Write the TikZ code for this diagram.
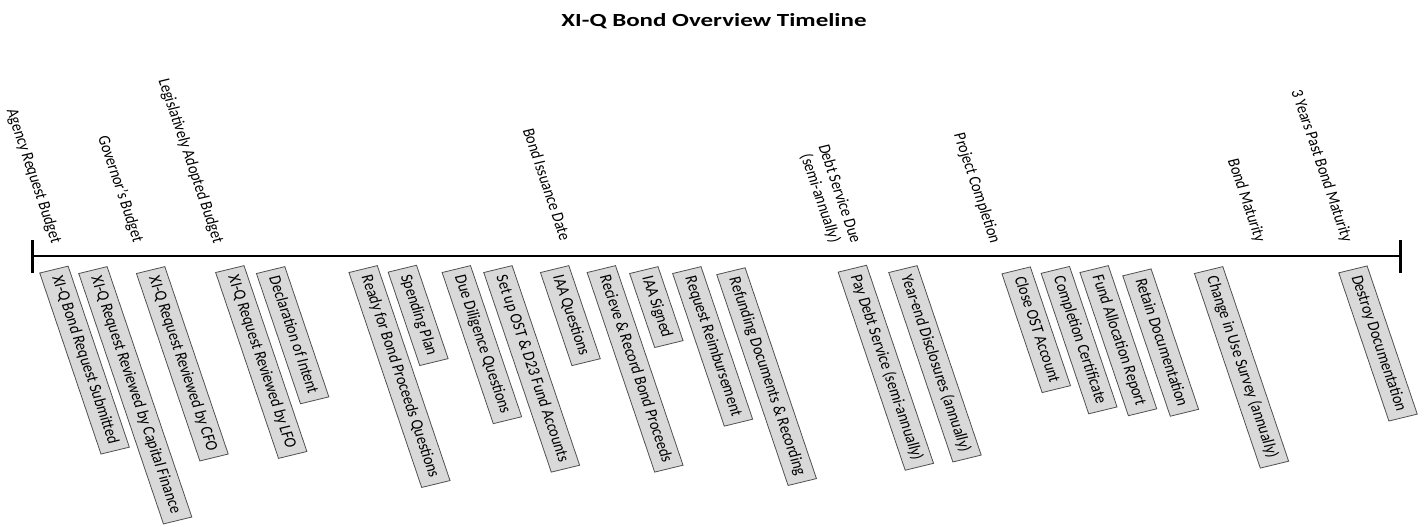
\documentclass[tikz,border=0pt]{standalone}
\usepackage{fontspec}
\setmainfont{Carlito}
\definecolor{boxfill}{RGB}{217,217,217}
\definecolor{boxline}{RGB}{80,80,80}
\begin{document}
\begin{tikzpicture}[x=1pt,y=-1pt,
  evbox/.style={draw=boxline, fill=boxfill, line width=0.8pt,
    font=\fontsize{14.5}{17}\selectfont, text height=10.5pt, text depth=3.5pt,
    inner xsep=7pt, inner ysep=5.5pt, anchor=west, xscale=1.18, rotate=-74},
  milestone/.style={font=\fontsize{14.5}{17}\selectfont, inner sep=0pt,
    anchor=east, align=center, xscale=1.18, rotate=-74},
  axis/.style={line width=2pt, black},
  tick/.style={line width=3pt, black}]
\useasboundingbox (0,0) rectangle (1424,527);
% title
\node (title) at (714,21) {\scalebox{1.35}[1]{\fontsize{18.5}{22}\selectfont\bfseries XI-Q Bond Overview Timeline}};
% timeline
\coordinate (tl) at (32.5,256);
\coordinate (tr) at (1400,256);
\coordinate (tlt) at (32.5,240);
\coordinate (tlb) at (32.5,272.5);
\coordinate (trt) at (1400,240);
\coordinate (trb) at (1400,272.5);
\draw[axis] (tl) -- (tr);
\draw[tick] (tlt) -- (tlb);
\draw[tick] (trt) -- (trb);
% milestones
\node[milestone] (m1) at (56,243) {Agency Request Budget};
\node[milestone] (m2) at (138,242) {Governor’s Budget};
\node[milestone] (m3) at (218,243) {Legislatively Adopted Budget};
\node[milestone] (m4) at (566,240) {Bond Issuance Date};
\node[milestone] (m5) at (846,245) {Debt Service Due\\(semi-annually)};
\node[milestone] (m6) at (995,243) {Project Completion};
\node[milestone] (m7) at (1260,242) {Bond Maturity};
\node[milestone] (m8) at (1347,242) {3 Years Past Bond Maturity};
% events
\node[evbox] (b1) at (53.8,269.2) {XI-Q Bond Request Submitted};
\node[evbox] (b2) at (92.8,269.7) {XI-Q Request Reviewed by Capital Finance};
\node[evbox] (b3) at (150.5,269.7) {XI-Q Request Reviewed by CFO};
\node[evbox] (b4) at (229.7,268.7) {XI-Q Request Reviewed by LFO};
\node[evbox] (b5) at (270.5,269.7) {Declaration of Intent};
\node[evbox] (b6) at (363,268.7) {Ready for Bond Proceeds Questions};
\node[evbox] (b7) at (402.2,268.3) {Spending Plan};
\node[evbox] (b8) at (456.2,268.7) {Due Diligence Questions};
\node[evbox] (b9) at (497.8,268.7) {Set up OST \& D23 Fund Accounts};
\node[evbox] (b10) at (554.5,268.7) {IAA Questions};
\node[evbox] (b11) at (601.2,268.7) {Recieve \& Record Bond Proceeds};
\node[evbox] (b12) at (643.7,269.7) {IAA Signed};
\node[evbox] (b13) at (686.7,269.7) {Request Reimbursement};
\node[evbox] (b14) at (730.8,270.8) {Refunding Documents \& Recording};
\node[evbox] (b15) at (852.2,268.3) {Pay Debt Service (semi-annually)};
\node[evbox] (b16) at (902.8,268.7) {Year-end Disclosures (annually)};
\node[evbox] (b17) at (1016,270) {Close OST Account};
\node[evbox] (b18) at (1055.2,269.5) {Completion Certificate};
\node[evbox] (b19) at (1094,268.7) {Fund Allocation Report};
\node[evbox] (b20) at (1136.8,272) {Retain Documentation};
\node[evbox] (b21) at (1208.5,269.7) {Change in Use Survey (annually)};
\node[evbox] (b22) at (1352.8,269) {Destroy Documentation};
\end{tikzpicture}
\end{document}
